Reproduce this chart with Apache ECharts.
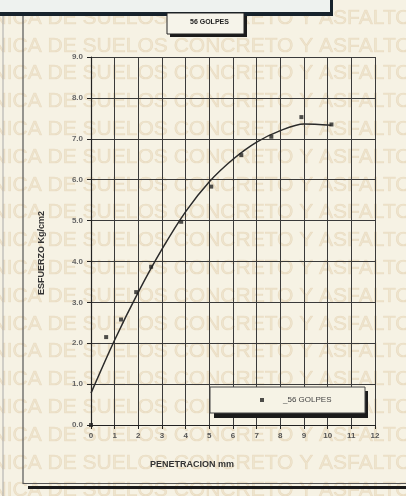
<!DOCTYPE html>
<html>
<head>
<meta charset="utf-8">
<script src="https://cdn.jsdelivr.net/npm/echarts@6/dist/echarts.min.js"></script>
<style>
  html, body { margin: 0; padding: 0; background: #f6f2e4; }
  #chart { width: 406px; height: 496px; }
</style>
</head>
<body>
<div id="chart"></div>
<script>
// lecturas del ensayo CBR (penetracion mm, esfuerzo kg/cm2)
const penetracion = [0, 0.64, 1.27, 1.91, 2.54, 3.81, 5.08, 6.35, 7.62, 8.89, 10.16]
const esfuerzo    = [0, 2.15, 2.58, 3.25, 3.87, 4.97, 5.83, 6.6, 7.05, 7.53, 7.35]

// curva de ajuste
const curvaX = [0, 1, 2, 3, 4, 5, 6, 7, 8, 9, 10.16]
const curvaY = [0.78, 2.08, 3.25, 4.3, 5.22, 5.95, 6.5, 6.92, 7.2, 7.36, 7.33]

const xTicks = [0, 1, 2, 3, 4, 5, 6, 7, 8, 9, 10, 11, 12]
const yTicks = [0, 1, 2, 3, 4, 5, 6, 7, 8, 9]

const serieNombre = '_56 GOLPES'
const titulo      = '56 GOLPES'
const marcaAgua   = 'TECNICA DE SUELOS CONCRETO Y ASFALTO'

const chart = echarts.init(document.getElementById('chart'), null, { renderer: 'canvas' })

// filas de la marca de agua de fondo
const watermark = []
for (let i = -1; i < 17; i++) {
  watermark.push({
    type: 'text', z: -10, right: -6, top: 35 + i * 27.8,
    style: { text: marcaAgua, fill: 'rgba(205,168,105,0.18)', stroke: 'rgba(190,150,90,0.16)', lineWidth: 0.6,
             font: '21px "Liberation Sans"' }
  })
}

chart.setOption({
  backgroundColor: '#f6f2e4',
  animation: false,
  grid: { left: 91, top: 57, width: 284, height: 368 },
  xAxis: {
    type: 'value', min: xTicks[0], max: xTicks[xTicks.length - 1], interval: 1,
    axisLine: { show: true, lineStyle: { color: '#222', width: 1.2 } },
    axisTick: { show: true, length: 4, lineStyle: { color: '#222' } },
    splitLine: { show: true, showMinLine: true, showMaxLine: true, lineStyle: { color: '#3a3a3a', width: 1 } },
    axisLabel: { fontSize: 8, color: '#555', fontWeight: 'bold', margin: 7, fontFamily: 'Liberation Sans' }
  },
  yAxis: {
    type: 'value', min: yTicks[0], max: yTicks[yTicks.length - 1], interval: 1,
    axisLine: { show: true, lineStyle: { color: '#222', width: 1.2 } },
    axisTick: { show: true, length: 4, lineStyle: { color: '#222' } },
    splitLine: { show: true, showMinLine: true, showMaxLine: true, lineStyle: { color: '#3a3a3a', width: 1 } },
    axisLabel: { fontSize: 8, color: '#666', fontWeight: 'bold', margin: 8, fontFamily: 'Liberation Sans',
                 formatter: v => v.toFixed(1) }
  },
  legend: {
    data: [serieNombre],
    z: 20,
    left: 255, top: 391,
    icon: 'rect', itemWidth: 4, itemHeight: 4,
    textStyle: { fontSize: 8, color: '#444', fontFamily: 'Liberation Sans', padding: [0, 0, 0, 14] }
  },
  graphic: [
    ...watermark,
    // banda superior del marco
    { type: 'rect', z: 5, shape: { x: 0, y: 0, width: 331, height: 13 }, style: { fill: '#eef2ef' } },
    { type: 'rect', z: 6, shape: { x: 0, y: 12, width: 333, height: 4 }, style: { fill: '#17232c' } },
    { type: 'rect', z: 6, shape: { x: 330, y: 0, width: 3, height: 16 }, style: { fill: '#17232c' } },
    // lineas laterales e inferiores
    { type: 'line', z: 6, shape: { x1: 3, y1: 16, x2: 3, y2: 496 }, style: { stroke: '#aaa', lineWidth: 1 } },
    { type: 'line', z: 6, shape: { x1: 23, y1: 16, x2: 23, y2: 484 }, style: { stroke: '#555', lineWidth: 1.2 } },
    { type: 'line', z: 6, shape: { x1: 23, y1: 483.5, x2: 406, y2: 483.5 }, style: { stroke: '#555', lineWidth: 1 } },
    { type: 'rect', z: 6, shape: { x: 28, y: 486, width: 378, height: 3 }, style: { fill: '#1b1b1b' } },
    // recuadro del titulo
    { type: 'rect', z: 6, shape: { x: 170, y: 16, width: 77, height: 21 }, style: { fill: '#1b1b1b' } },
    { type: 'rect', z: 7, shape: { x: 167, y: 13, width: 77, height: 21 }, style: { fill: '#f6f4ea', stroke: '#222', lineWidth: 1 } },
    { type: 'text', z: 8, left: 190, top: 19,
      style: { text: titulo, fill: '#222', font: 'bold 7px "Liberation Sans"' } },
    // recuadro de la leyenda
    { type: 'rect', z: 6, shape: { x: 214, y: 391, width: 154, height: 27 }, style: { fill: '#1b1b1b' } },
    { type: 'rect', z: 7, shape: { x: 210, y: 387, width: 155, height: 26 }, style: { fill: '#f6f3e6', stroke: '#444', lineWidth: 1 } },
    // titulos de ejes
    { type: 'text', z: 8, left: 150, top: 460,
      style: { text: 'PENETRACION mm', fill: '#333', font: 'bold 9px "Liberation Sans"' } },
    { type: 'text', z: 8, x: 42, y: 253, rotation: Math.PI / 2,
      style: { text: 'ESFUERZO Kg/cm2', fill: '#333', font: 'bold 9px "Liberation Sans"', align: 'center', verticalAlign: 'middle' } }
  ],
  series: [
    {
      name: serieNombre,
      type: 'scatter',
      z: 20,
      symbol: 'rect',
      symbolSize: 4,
      itemStyle: { color: '#222' },
      data: penetracion.map((p, i) => [p, esfuerzo[i]])
    },
    {
      name: 'curva',
      type: 'line',
      z: 15,
      smooth: 0.3,
      showSymbol: false,
      lineStyle: { color: '#2a2a2a', width: 1.5 },
      data: curvaX.map((p, i) => [p, curvaY[i]])
    }
  ]
})
</script>
</body>
</html>
